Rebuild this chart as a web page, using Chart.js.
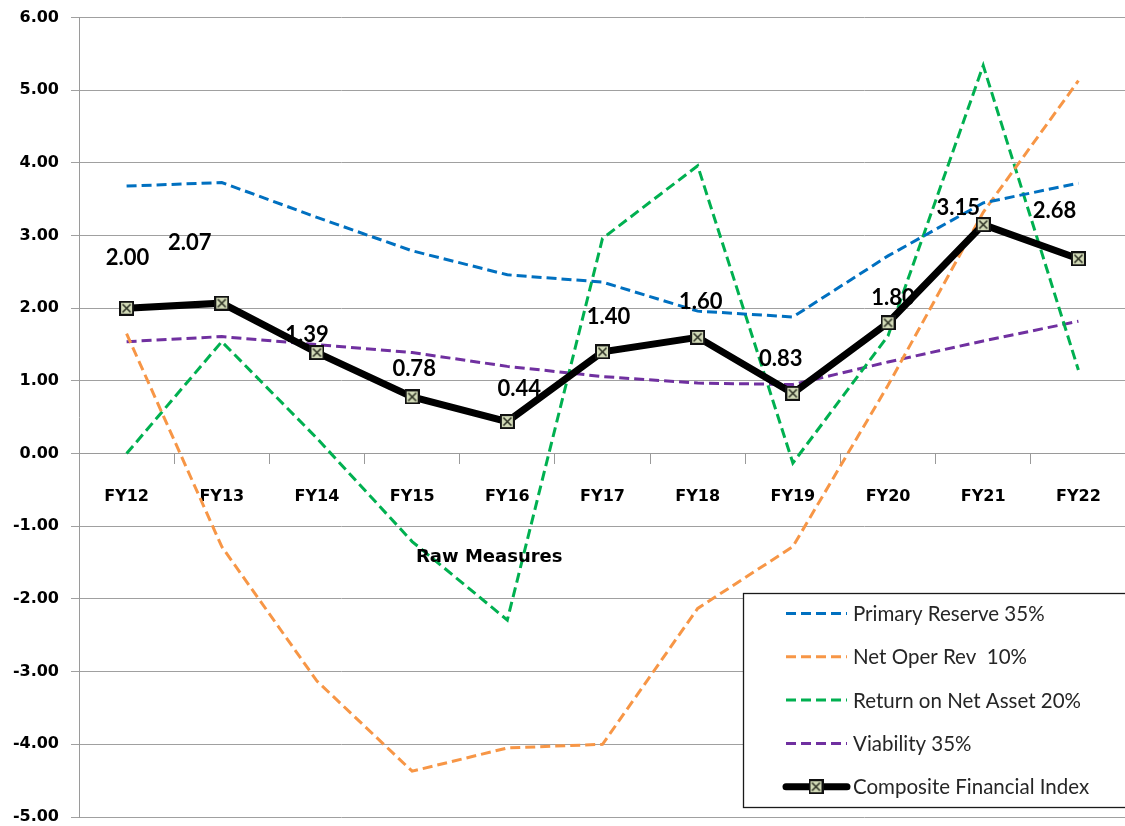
<!DOCTYPE html>
<html>
<head>
<meta charset="utf-8">
<script src="https://cdn.jsdelivr.net/npm/chart.js@4/dist/chart.umd.min.js"></script>
<style>
  html, body { margin: 0; padding: 0; background: #ffffff; overflow: hidden; }
  #wrap { position: relative; width: 1140px; height: 831px; }
</style>
</head>
<body>
<div id="wrap"><canvas id="cfi"></canvas></div>
<script>
// Fiscal years on the category axis
const years = ['FY12', 'FY13', 'FY14', 'FY15', 'FY16', 'FY17', 'FY18', 'FY19', 'FY20', 'FY21', 'FY22'];

// Raw ratio measures
const primaryReserve   = [3.68, 3.73, 3.25, 2.79, 2.46, 2.36, 1.96, 1.88, 2.72, 3.45, 3.72];
const netOperRev       = [1.65, -1.28, -3.13, -4.37, -4.05, -4.00, -2.13, -1.28, 0.94, 3.32, 5.13];
const returnOnNetAsset = [0.00, 1.54, 0.21, -1.21, -2.29, 2.96, 3.96, -0.13, 1.62, 5.34, 1.15];
const viability        = [1.54, 1.61, 1.50, 1.39, 1.20, 1.06, 0.97, 0.95, 1.26, 1.55, 1.82];

// Weighted composite score
const compositeIndex   = [2.00, 2.07, 1.39, 0.78, 0.44, 1.40, 1.60, 0.83, 1.80, 3.15, 2.68];

// Value axis range and step
const yRange = [-5, 6];
const yStep = 1;

// Nudges (dx, dy in px) for each composite value label
const labelShift = [[1, -50], [-32, -60], [-10, -18], [2, -28], [12, -33], [6, -35],
                    [3, -35], [-12, -34], [5, -25], [-25, -17], [-24, -48]];

// Boxed "X" marker for the composite series
function makeMarker(size) {
  const c = document.createElement('canvas');
  c.width = size; c.height = size;
  const g = c.getContext('2d');
  g.fillStyle = '#d3dbb8';
  g.fillRect(1, 1, size - 2, size - 2);
  g.strokeStyle = '#111111';
  g.lineWidth = 2;
  g.strokeRect(1, 1, size - 2, size - 2);
  g.strokeStyle = '#2b2f22';
  g.lineWidth = 1.6;
  g.beginPath();
  g.moveTo(3.5, 3.5); g.lineTo(size - 3.5, size - 3.5);
  g.moveTo(size - 3.5, 3.5); g.lineTo(3.5, size - 3.5);
  g.stroke();
  return c;
}
const marker = makeMarker(15);

const dashed = (label, data, color) => ({
  label, data,
  borderColor: color,
  backgroundColor: color,
  borderWidth: 3,
  borderDash: [10, 5],
  pointRadius: 0,
  tension: 0,
  order: 1
});

// Keep the plot edges fixed by the layout padding alone
function noEdgePadding(scale) {
  scale.paddingTop = 0;
  scale.paddingBottom = 0;
}

// Value labels above the composite points
const valueLabels = {
  id: 'valueLabels',
  afterDatasetsDraw(chart) {
    const meta = chart.getDatasetMeta(4);
    const ctx = chart.ctx;
    ctx.save();
    ctx.font = 'bold 22px Lato';
    ctx.fillStyle = '#000000';
    ctx.textAlign = 'center';
    ctx.textBaseline = 'middle';
    meta.data.forEach((pt, i) => {
      const [dx, dy] = labelShift[i];
      ctx.fillText(compositeIndex[i].toFixed(2), pt.x + dx, pt.y + dy);
    });
    ctx.restore();
  }
};

// Axis caption under the category labels
const axisCaption = {
  id: 'axisCaption',
  afterDraw(chart) {
    const ctx = chart.ctx;
    const y = chart.scales.y;
    ctx.save();
    ctx.font = 'bold 18px "DejaVu Sans"';
    ctx.fillStyle = '#000000';
    ctx.textAlign = 'left';
    ctx.textBaseline = 'middle';
    ctx.fillText('Raw Measures', chart.chartArea.left + 337, y.getPixelForValue(-1.43));
    ctx.restore();
  }
};

// Boxed legend in the lower right of the plot
const boxLegend = {
  id: 'boxLegend',
  afterDraw(chart) {
    const ctx = chart.ctx;
    const left = 743.5, top = 593.5, w = 420, h = 214;
    ctx.save();
    ctx.fillStyle = '#ffffff';
    ctx.fillRect(left, top, w, h);
    ctx.strokeStyle = '#1a1a1a';
    ctx.lineWidth = 1.3;
    ctx.strokeRect(left, top, w, h);
    ctx.font = '20.5px Lato';
    ctx.textBaseline = 'middle';
    ctx.textAlign = 'left';
    chart.data.datasets.forEach((ds, i) => {
      const ry = 613.5 + i * 43.3;
      ctx.save();
      ctx.strokeStyle = ds.borderColor;
      ctx.lineWidth = ds.borderWidth;
      ctx.setLineDash(ds.borderDash || []);
      ctx.lineCap = ds.borderDash ? 'butt' : 'round';
      ctx.beginPath();
      ctx.moveTo(786, ry);
      ctx.lineTo(847, ry);
      ctx.stroke();
      ctx.restore();
      if (ds.pointStyle && ds.pointStyle !== 'circle') {
        ctx.drawImage(ds.pointStyle, 816 - 7.5, ry - 7.5);
      }
      ctx.fillStyle = '#262626';
      ctx.fillText(ds.label, 853, ry + 1);
    });
    ctx.restore();
  }
};

new Chart(document.getElementById('cfi'), {
  type: 'line',
  data: {
    labels: years,
    datasets: [
      dashed('Primary Reserve 35%', primaryReserve, '#0070c0'),
      dashed('Net Oper Rev  10%', netOperRev, '#f79646'),
      dashed('Return on Net Asset 20%', returnOnNetAsset, '#00b050'),
      dashed('Viability 35%', viability, '#7030a0'),
      {
        label: 'Composite Financial Index',
        data: compositeIndex,
        borderColor: '#000000',
        backgroundColor: '#d3dbb8',
        borderWidth: 7,
        pointStyle: marker,
        pointRadius: 7,
        tension: 0,
        order: 0
      }
    ]
  },
  options: {
    responsive: true,
    maintainAspectRatio: false,
    animation: false,
    events: [],
    layout: { padding: { top: 17.5, right: 5, bottom: 10.7, left: 0 } },
    plugins: { legend: { display: false }, tooltip: { enabled: false } },
    scales: {
      x: {
        type: 'category',
        position: { y: 0 },
        offset: true,
        afterFit: noEdgePadding,
        grid: { display: true, drawOnChartArea: false, drawTicks: true, tickLength: 10, color: '#9a9a9a', offset: true },
        border: { display: true, color: '#9a9a9a' },
        ticks: { color: '#000000', padding: 24, maxRotation: 0, font: { family: 'DejaVu Sans', weight: 'bold', size: 16 } }
      },
      y: {
        min: yRange[0],
        max: yRange[1],
        afterFit(scale) { scale.width = 79; noEdgePadding(scale); },
        grid: { color: '#a0a0a0', lineWidth: 1, tickLength: 8 },
        border: { display: true, color: '#9a9a9a' },
        ticks: {
          stepSize: yStep,
          padding: 12,
          color: '#000000',
          font: { family: 'DejaVu Sans', weight: 'bold', size: 16 },
          callback: v => v.toFixed(2)
        }
      }
    }
  },
  plugins: [valueLabels, axisCaption, boxLegend]
});
</script>
</body>
</html>
